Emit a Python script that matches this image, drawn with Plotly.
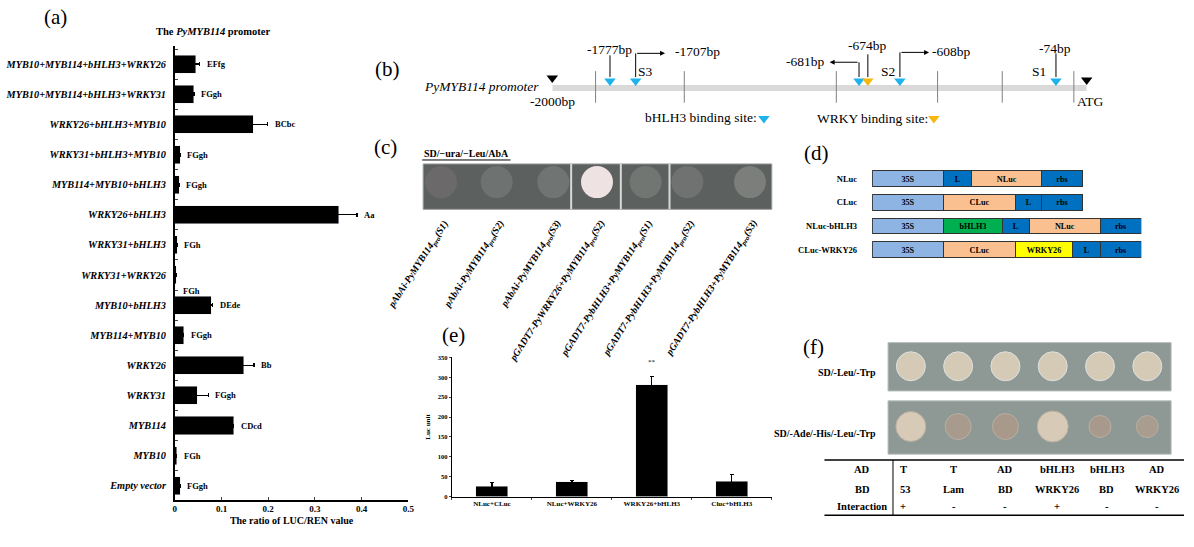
import plotly.graph_objects as go

W, H = 1194, 547
SERIF = "Liberation Serif"


def px(x):
    return x / W


def py(y):
    return 1 - y / H


# ---- (a) dual luciferase on the PyMYB114 promoter
combo_names = ["MYB10+MYB114+bHLH3+WRKY26", "MYB10+MYB114+bHLH3+WRKY31", "WRKY26+bHLH3+MYB10",
               "WRKY31+bHLH3+MYB10", "MYB114+MYB10+bHLH3", "WRKY26+bHLH3", "WRKY31+bHLH3",
               "WRKY31+WRKY26", "MYB10+bHLH3", "MYB114+MYB10", "WRKY26", "WRKY31", "MYB114",
               "MYB10", "Empty vector"]
ratio_vals = [0.045, 0.041, 0.168, 0.012, 0.009, 0.351, 0.005, 0.003, 0.078, 0.019, 0.148, 0.048, 0.126, 0.004, 0.012]
ratio_err = [0.008, None, 0.031, None, None, 0.039, None, None, 0.003, None, 0.022, 0.024, None, None, None]
ratio_letters = ["EFfg", "FGgh", "BCbc", "FGgh", "FGgh", "Aa", "FGh", "FGh", "DEde", "FGgh", "Bb", "FGgh", "CDcd", "FGh", "FGgh"]

# ---- (e) LUC complementation
luc_groups = ["NLuc+CLuc", "NLuc+WRKY26", "WRKY26+bHLH3", "Cluc+bHLH3"]
luc_vals = [26, 37, 281, 39]
luc_err = [10, 4, 22, 16]

# ---- (d) vector constructs
construct_names = ["NLuc", "CLuc", "NLuc-bHLH3", "CLuc-WRKY26"]
construct_parts = [["35S", "L", "NLuc", "rbs"], ["35S", "CLuc", "L", "rbs"],
                   ["35S", "bHLH3", "L", "NLuc", "rbs"], ["35S", "CLuc", "WRKY26", "L", "rbs"]]
construct_lengths = [[72, 28, 71, 41], [72, 72, 27, 41], [72, 59, 27, 72, 41], [72, 72, 58, 28, 41]]
part_colors = {"35S": "#8eb4e3", "L": "#0070c0", "rbs": "#0070c0", "NLuc": "#fac090",
               "CLuc": "#fac090", "bHLH3": "#00b050", "WRKY26": "#ffff00"}

# ---- (b) promoter map (drawn positions on the bp axis)
bhlh3_sites = [-1784, -1688, -852, -699, -115]
wrky_sites = [-819]
dividers = [-1838, -1506, -937, -558, -316, -48]

# ---- (c) Y1H
c_spot_x = [442, 498, 555, 599, 648, 690, 753]
c_spot_col = ["#6b696a", "#6e7372", "#707574", "#eee2e2", "#727673", "#6f7270", "#7b7e7b"]
c_labels = ["pAbAi-PyMYB114<sub>pro</sub>(S1)", "pAbAi-PyMYB114<sub>pro</sub>(S2)",
            "pAbAi-PyMYB114<sub>pro</sub>(S3)", "pGADT7-PyWRKY26+PyMYB114<sub>pro</sub>(S2)",
            "pGADT7-PybHLH3+PyMYB114<sub>pro</sub>(S1)", "pGADT7-PybHLH3+PyMYB114<sub>pro</sub>(S2)",
            "pGADT7-PybHLH3+PyMYB114<sub>pro</sub>(S3)"]

# ---- (f) Y2H
f_top_size = [29, 29, 29, 29, 29, 29]
f_bot_size = [30, 26, 26, 31, 22, 22]
f_bot_col = ["#f6dfc4", "#b49c8a", "#b39a88", "#f6e0c6", "#b29a89", "#b59f8e"]
ad_row = ["T", "T", "AD", "bHLH3", "bHLH3", "AD"]
bd_row = ["53", "Lam", "BD", "WRKY26", "BD", "WRKY26"]
inter_row = ["+", "-", "-", "+", "-", "-"]

fig = go.Figure()
ann = []
shapes = []


def paper_text(text, x, y, size, xanchor="center", yanchor="middle", **kw):
    ann.append(dict(x=px(x), y=py(y), xref="paper", yref="paper", text=text, showarrow=False,
                    xanchor=xanchor, yanchor=yanchor, font=dict(size=size), **kw))


# (a)
fig.add_trace(go.Bar(
    x=ratio_vals, y=combo_names, orientation="h", marker_color="black", width=0.6,
    error_x=dict(type="data", array=ratio_err, color="black", thickness=1.5, width=2),
    xaxis="x", yaxis="y",
))
for name, v, e, lab in zip(combo_names, ratio_vals, ratio_err, ratio_letters):
    end = v + (e or 0)
    shift = 0
    if name == "WRKY31+WRKY26":
        shift = -16
    ann.append(dict(x=end, y=name, xref="x", yref="y", text="<b>" + lab + "</b>", showarrow=False,
                    xanchor="left", xshift=5, yshift=shift, font=dict(size=8.5)))
paper_text("<b>The <i>PyMYB114</i> promoter</b>", 212, 28, 10.5)

# (e)
fig.add_trace(go.Bar(
    x=luc_groups, y=luc_vals, marker_color="black", width=0.4,
    error_y=dict(type="data", array=luc_err, color="black", thickness=1.2, width=2),
    xaxis="x2", yaxis="y2",
))
ann.append(dict(x=luc_groups[2], y=luc_vals[2] + luc_err[2], xref="x2", yref="y2", text="**",
                showarrow=False, yshift=14, font=dict(size=7)))

# (d)
for name, parts, lens in zip(construct_names, construct_parts, construct_lengths):
    for part, ln in zip(parts, lens):
        fig.add_trace(go.Bar(
            x=[ln], y=[name], orientation="h", width=0.66, xaxis="x3", yaxis="y3",
            marker=dict(color=part_colors[part], line=dict(color="#333333", width=1)),
            text=["<b>" + part + "</b>"], textposition="inside", insidetextanchor="middle",
            textangle=0, textfont=dict(size=8.5, color="black", family=SERIF),
        ))

# (b) promoter schematic
fig.add_trace(go.Scatter(
    x=bhlh3_sites + wrky_sites, y=[78] * (len(bhlh3_sites) + 1), mode="markers",
    marker=dict(symbol="triangle-down", size=10,
                color=["#1eb3ea"] * len(bhlh3_sites) + ["#f6b80f"] * len(wrky_sites)),
    xaxis="x4", yaxis="y4", cliponaxis=False,
))
fig.add_trace(go.Scatter(
    x=[-2000, 0, -1208, -572], y=[75, 77, 116, 116], mode="markers",
    marker=dict(symbol="triangle-down", size=10, color=["black", "black", "#1eb3ea", "#f6b80f"]),
    xaxis="x4", yaxis="y4", cliponaxis=False,
))
shapes.append(dict(type="line", xref="x4", yref="y4", x0=-2000, x1=0, y0=85, y1=85,
                   line=dict(color="#d9d9d9", width=6), layer="below"))
for d in dividers:
    shapes.append(dict(type="line", xref="x4", yref="y4", x0=d, x1=d, y0=68, y1=100,
                       line=dict(color="#808080", width=1)))
# plain site pointers
for xs, ytop in [(-1784, 52), (-819, 51), (-115, 50)]:
    shapes.append(dict(type="line", xref="x4", yref="y4", x0=xs, x1=xs, y0=ytop, y1=74,
                       line=dict(color="black", width=1)))
# elbow arrows (S3, -681, S2)
for xs, ylev, xhead in [(-1688, 50, -1578), (-852, 59, -962), (-699, 49, -590)]:
    shapes.append(dict(type="line", xref="x4", yref="y4", x0=xs, x1=xs, y0=ylev, y1=74,
                       line=dict(color="black", width=1)))
    ann.append(dict(x=xhead, y=ylev, ax=xs, ay=ylev, xref="x4", yref="y4", axref="x4", ayref="y4",
                    text="", showarrow=True, arrowhead=2, arrowsize=1, arrowwidth=1, arrowcolor="black"))
b_texts = [("-1777bp", -1784, 46, "center"), ("-1707bp", -1457, 48, "center"), ("S3", -1651, 68, "center"),
           ("-681bp", -1056, 58, "center"), ("-674bp", -822, 42, "center"), ("S2", -744, 68, "center"),
           ("-608bp", -506, 48, "center"), ("-74bp", -119, 45, "center"), ("S1", -178, 68, "center"),
           ("ATG", -45, 99, "left"), ("-2000bp", -2000, 99, "center"),
           ("bHLH3 binding site:", -1442, 115, "center"), ("WRKY binding site:", -803, 116, "center")]
for t, xx, yy, anc in b_texts:
    ann.append(dict(x=xx, y=yy, xref="x4", yref="y4", text=t, showarrow=False, xanchor=anc,
                    yanchor="middle", font=dict(size=13.5)))
paper_text("<i>PyMYB114 promoter</i>", 543, 84, 13.5, xanchor="right")

# (c) Y1H plate
shapes.append(dict(type="rect", xref="x5 domain", yref="y5 domain", x0=0, x1=1, y0=0, y1=1,
                   fillcolor="#5c605e", line=dict(color="#9a9d9b", width=1), layer="below"))
for s in [573, 623, 672]:
    shapes.append(dict(type="line", xref="x5", yref="y5 domain", x0=s, x1=s, y0=0, y1=1,
                       line=dict(color="#d8dad8", width=2), layer="below"))
fig.add_trace(go.Scatter(
    x=c_spot_x, y=[0.6] * len(c_spot_x), mode="markers", xaxis="x5", yaxis="y5",
    marker=dict(size=32, color=c_spot_col, line=dict(width=0)), cliponaxis=False,
))
for xx, lab in zip(c_spot_x, c_labels):
    ann.append(dict(x=xx, y=py(214), xref="x5", yref="paper", text="<b><i>" + lab + "</i></b>",
                    showarrow=False, textangle=-57, xanchor="right", yanchor="top", xshift=13,
                    font=dict(size=9.8)))
paper_text("<b>SD/\u2212ura/\u2212Leu/AbA</b>", 423, 151, 10, xanchor="left")
shapes.append(dict(type="line", xref="paper", yref="paper", x0=px(423), x1=px(512), y0=py(158), y1=py(158),
                   line=dict(color="black", width=1)))

# (f) Y2H plates
for y0, y1 in [(343, 392), (402, 456)]:
    shapes.append(dict(type="rect", xref="x6 domain", yref="paper", x0=0, x1=1, y0=py(y1), y1=py(y0),
                       fillcolor="#8e9995", line=dict(color="#b8bfbc", width=1), layer="below"))
fig.add_trace(go.Scatter(
    x=list(range(6)), y=[1] * 6, mode="markers", xaxis="x6", yaxis="y6",
    marker=dict(size=f_top_size, color="#f4e0c4"), cliponaxis=False,
))
fig.add_trace(go.Scatter(
    x=list(range(6)), y=[0] * 6, mode="markers", xaxis="x6", yaxis="y6",
    marker=dict(size=f_bot_size, color=f_bot_col, line=dict(color="#cdb9a8", width=1)), cliponaxis=False,
))
paper_text("<b>SD/-Leu/-Trp</b>", 882, 373, 10, xanchor="right")
paper_text("<b>SD/-Ade/-His/-Leu/-Trp</b>", 882, 435, 10, xanchor="right")
# table
for yl in [462, 518]:
    shapes.append(dict(type="line", xref="paper", yref="paper", x0=px(828), x1=px(1190), y0=py(yl), y1=py(yl),
                       line=dict(color="black", width=1.5)))
shapes.append(dict(type="line", xref="paper", yref="paper", x0=px(897), x1=px(897), y0=py(518), y1=py(462),
                   line=dict(color="black", width=1)))
col_x = [902, 958, 1010, 1062, 1112, 1163]
for row_name, row_vals, yy in [("AD", ad_row, 472), ("BD", bd_row, 492), ("Interaction", inter_row, 509)]:
    paper_text("<b>" + row_name + "</b>", 866, yy, 10.5)
    for i, (cx, v) in enumerate(zip(col_x, row_vals)):
        paper_text("<b>" + v + "</b>", cx, yy, 10.5, xanchor="left" if i == 0 else "center")

# panel letters
for t, xx, yy in [("(a)", 54, 13), ("(b)", 388, 66), ("(c)", 386, 145), ("(d)", 820, 151),
                  ("(e)", 455, 335), ("(f)", 817, 347)]:
    paper_text(t, xx, yy, 21)

hidden = dict(visible=False, showgrid=False, zeroline=False)
fig.update_layout(
    width=W, height=H, margin=dict(l=0, r=0, t=0, b=0),
    paper_bgcolor="white", plot_bgcolor="rgba(0,0,0,0)",
    showlegend=False, barmode="stack",
    font=dict(family=SERIF, color="black"),
    xaxis=dict(domain=[px(174), px(409)], range=[0, 0.5], dtick=0.1, anchor="y",
               showline=True, linecolor="black", linewidth=1.5, ticks="inside", ticklen=3,
               showgrid=False, zeroline=False, tickfont=dict(size=9, weight="bold"),
               title=dict(text="<b>The ratio of LUC/REN value</b>", font=dict(size=10), standoff=4)),
    yaxis=dict(domain=[py(502), py(43)], type="category", categoryorder="array", categoryarray=combo_names,
               range=[14.46, -0.59], anchor="x", showline=True, linecolor="black", linewidth=1.5,
               ticks="inside", ticklen=3, tickson="boundaries", showgrid=False, ticklabelstandoff=5,
               tickfont=dict(size=10.3, weight="bold", style="italic")),
    xaxis2=dict(domain=[px(453), px(775)], anchor="y2", showline=True, linecolor="black", linewidth=1.2,
                ticks="outside", ticklen=2, tickson="boundaries", showgrid=False,
                tickfont=dict(size=7, weight="bold")),
    yaxis2=dict(domain=[py(499), py(358)], range=[0, 350], dtick=50, anchor="x2", showline=True,
                linecolor="black", linewidth=1.2, ticks="outside", ticklen=2, showgrid=False, zeroline=False,
                tickfont=dict(size=6.5, weight="bold"),
                title=dict(text="<b>Luc unit</b>", font=dict(size=7), standoff=6)),
    xaxis3=dict(domain=[px(876), px(1147)], range=[0, 271], anchor="y3", **hidden),
    yaxis3=dict(domain=[py(261), py(165)], type="category", categoryorder="array",
                categoryarray=construct_names, range=[3.5, -0.5], anchor="x3", showgrid=False,
                showline=False, ticks="", ticklabelstandoff=14, tickfont=dict(size=8.5, weight="bold")),
    xaxis4=dict(domain=[px(554), px(1092)], range=[-2000, 0], anchor="y4", **hidden),
    yaxis4=dict(domain=[py(125), py(30)], range=[125, 30], anchor="x4", **hidden),
    xaxis5=dict(domain=[px(424), px(775)], range=[424, 775], anchor="y5", **hidden),
    yaxis5=dict(domain=[py(208), py(162)], range=[0, 1], anchor="x5", **hidden),
    xaxis6=dict(domain=[px(892), px(1177)], range=[-0.483, 5.504], anchor="y6", **hidden),
    yaxis6=dict(domain=[py(456), py(343)], range=[-0.459, 1.393], anchor="x6", **hidden),
    annotations=ann,
    shapes=shapes,
)

fig.write_html("out.html", config={"displayModeBar": False},
               post_script="document.body.style.margin='0';")
